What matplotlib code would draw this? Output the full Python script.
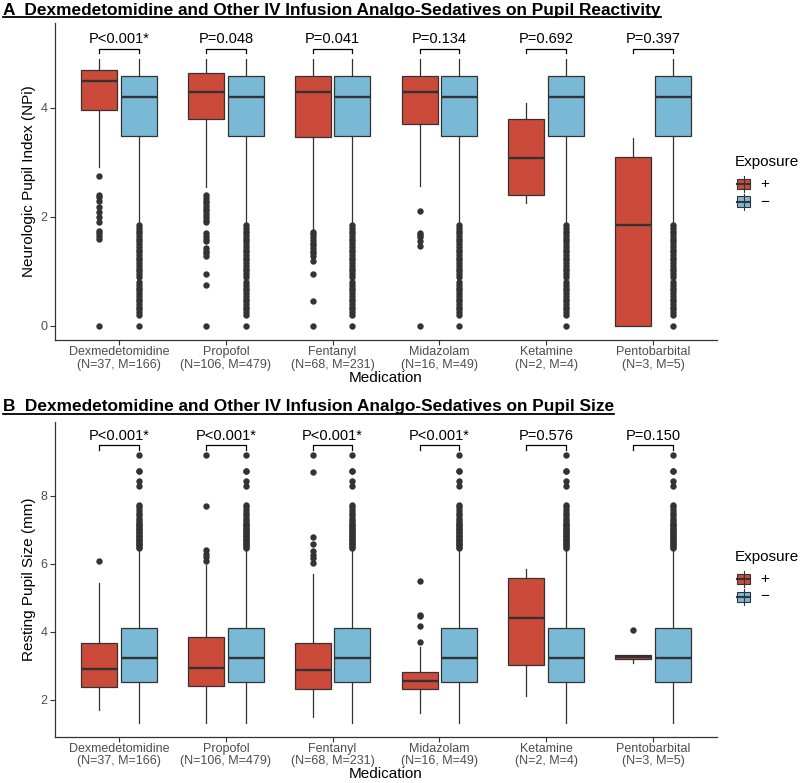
import numpy as np
import matplotlib
matplotlib.use('Agg')
import matplotlib.pyplot as plt
from matplotlib.patches import Rectangle
from matplotlib.lines import Line2D

plt.rcParams['font.family'] = ['Liberation Sans', 'DejaVu Sans']

medications = ['Dexmedetomidine', 'Propofol', 'Fentanyl', 'Midazolam', 'Ketamine', 'Pentobarbital']
counts = ['(N=37, M=166)', '(N=106, M=479)', '(N=68, M=231)', '(N=16, M=49)', '(N=2, M=4)', '(N=3, M=5)']

# panel A: NPi, exposed (+) groups -> whislo, q1, med, q3, whishi
npi_exposed = [
    [2.92, 3.96, 4.50, 4.69, 4.89],
    [2.55, 3.80, 4.30, 4.65, 4.89],
    [1.76, 3.46, 4.30, 4.59, 4.89],
    [2.57, 3.70, 4.30, 4.59, 4.89],
    [2.25, 2.40, 3.08, 3.80, 4.09],
    [0.00, 0.00, 1.85, 3.10, 3.44],
]
npi_exposed_out = [
    [2.75, 2.40, 2.36, 2.30, 2.19, 2.09, 2.00, 1.90, 1.75, 1.70, 1.65, 1.60, 0.0],
    [2.40, 2.35, 2.30, 2.25, 2.20, 2.15, 2.10, 2.05, 2.00, 1.95, 1.91, 1.71, 1.65,
     1.60, 1.55, 1.43, 1.38, 1.33, 1.29, 0.95, 0.75, 0.0],
    [1.73, 1.68, 1.63, 1.58, 1.53, 1.48, 1.43, 1.38, 1.33, 1.28, 1.19, 0.95, 0.45, 0.0],
    [2.10, 1.71, 1.66, 1.63, 1.55, 1.46, 0.0],
    [],
    [],
]
# unexposed (-) reference group
npi_control = [1.87, 3.49, 4.20, 4.59, 4.89]
npi_control_out = [1.85, 1.80, 1.75, 1.70, 1.65, 1.60, 1.55, 1.50, 1.45, 1.40, 1.35, 1.30,
                   1.25, 1.20, 1.15, 1.10, 1.05, 1.00, 0.95, 0.90, 0.80, 0.75, 0.70, 0.65,
                   0.60, 0.55, 0.50, 0.45, 0.40, 0.35, 0.30, 0.25, 0.20, 0.0]
npi_pvals = ['P<0.001*', 'P=0.048', 'P=0.041', 'P=0.134', 'P=0.692', 'P=0.397']

# panel B: pupil size
size_exposed = [
    [1.70, 2.37, 2.90, 3.67, 5.44],
    [1.32, 2.39, 2.93, 3.84, 5.96],
    [1.48, 2.32, 2.86, 3.68, 5.69],
    [1.62, 2.32, 2.55, 2.82, 3.54],
    [2.12, 3.01, 4.39, 5.57, 5.84],
    [3.09, 3.20, 3.26, 3.32, 3.32],
]
size_exposed_out = [
    [6.07],
    [6.07, 6.20, 6.30, 6.40, 7.70, 9.20],
    [6.03, 6.16, 6.26, 6.37, 6.57, 6.78, 8.71, 9.20],
    [3.69, 4.17, 4.47, 4.50, 5.48],
    [],
    [4.04],
]
size_control = [1.31, 2.52, 3.23, 4.10, 6.45]
size_control_out = [9.20, 8.74, 8.72, 8.43, 8.29, 7.73, 7.68, 7.58, 7.50, 7.42, 7.35, 7.28,
                    7.22, 7.18, 7.14, 7.10, 7.06, 7.02, 6.98, 6.94, 6.90, 6.86, 6.82, 6.78,
                    6.74, 6.70, 6.66, 6.62, 6.58, 6.54, 6.50, 6.47]
size_pvals = ['P<0.001*', 'P<0.001*', 'P<0.001*', 'P<0.001*', 'P=0.576', 'P=0.150']

RED = '#CB4A3A'
BLUE = '#7AB9D6'
DARK = '#333333'
OFF = 0.186
BW = 0.337


def stats(v, out):
    return dict(whislo=v[0], q1=v[1], med=v[2], q3=v[3], whishi=v[4], fliers=out)


def draw_panel(ax, exposed, exposed_out, control, control_out, pvals,
               ylim, yticks, ylabel, brk, tick_drop, ptxt):
    x = np.arange(1, len(medications) + 1)
    common = dict(widths=BW, patch_artist=True, showcaps=False, manage_ticks=False,
                  medianprops=dict(color=DARK, lw=1.7),
                  whiskerprops=dict(color=DARK, lw=0.9),
                  flierprops=dict(marker='o', mfc=DARK, mec='none', ms=4.6))
    ax.bxp([stats(v, o) for v, o in zip(exposed, exposed_out)],
           positions=x - OFF, boxprops=dict(facecolor=RED, edgecolor=DARK, lw=0.9), **common)
    ax.bxp([stats(control, control_out) for _ in medications],
           positions=x + OFF, boxprops=dict(facecolor=BLUE, edgecolor=DARK, lw=0.9), **common)
    for i, p in enumerate(pvals):
        ax.plot([x[i] - OFF, x[i] - OFF, x[i] + OFF, x[i] + OFF],
                [brk - tick_drop, brk, brk, brk - tick_drop], color='black', lw=0.9)
        ax.text(x[i], ptxt, p, ha='center', va='baseline', fontsize=10.5)
    ax.set_xlim(0.4, 6.6)
    ax.set_ylim(*ylim)
    ax.set_yticks(yticks)
    ax.set_xticks(x)
    ax.set_xticklabels([m + '\n' + c for m, c in zip(medications, counts)],
                       fontsize=9, color='#4D4D4D', linespacing=1.05)
    ax.tick_params(axis='y', labelsize=9, labelcolor='#4D4D4D', pad=2)
    ax.tick_params(axis='x', pad=1)
    ax.tick_params(colors=DARK, length=3.5, width=0.8)
    for t in ax.get_yticklabels():
        t.set_color('#4D4D4D')
    for t in ax.get_xticklabels():
        t.set_color('#4D4D4D')
    for s in ['top', 'right']:
        ax.spines[s].set_visible(False)
    for s in ['left', 'bottom']:
        ax.spines[s].set_color(DARK)
        ax.spines[s].set_linewidth(0.9)
    ax.set_xlabel('Medication', fontsize=11, labelpad=0)
    ax.set_ylabel(ylabel, fontsize=11, labelpad=3)


fig = plt.figure(figsize=(8, 7.83), dpi=100)
H = 783.0
axA = fig.add_axes([55 / 800, (H - 340) / H, 662 / 800, 317 / H])
axB = fig.add_axes([55 / 800, (H - 736.7) / H, 662 / 800, 315 / H])

draw_panel(axA, npi_exposed, npi_exposed_out, npi_control, npi_control_out, npi_pvals,
           (-0.26, 5.56), [0, 2, 4], 'Neurologic Pupil Index (NPi)', 5.09, 0.08, 5.19)
draw_panel(axB, size_exposed, size_exposed_out, size_control, size_control_out, size_pvals,
           (0.91, 10.18), [2, 4, 6, 8], 'Resting Pupil Size (mm)', 9.49, 0.15, 9.64)

titles = [('A  Dexmedetomidine and Other IV Infusion Analgo-Sedatives on Pupil Reactivity', 14.5),
          ('B  Dexmedetomidine and Other IV Infusion Analgo-Sedatives on Pupil Size', 411.5)]
ttexts = []
for t, ypx in titles:
    ttexts.append(fig.text(3 / 800, 1 - ypx / H, t, fontsize=12.4, fontweight='bold',
                           ha='left', va='baseline'))

# legends
for ytitle in [162, 557]:
    fig.text(735 / 800, 1 - ytitle / H, 'Exposure', fontsize=11, ha='left', va='center')
    for k, (col, lab) in enumerate([(RED, '+'), (BLUE, '\u2212')]):
        yc = ytitle + 22 + k * 17.5
        x0, w, h = 737, 13, 10
        fig.add_artist(Line2D([(x0 + w / 2) / 800] * 2, [1 - (yc - 8) / H, 1 - (yc + 8) / H],
                              color=DARK, lw=0.8))
        fig.add_artist(Rectangle((x0 / 800, 1 - (yc + h / 2) / H), w / 800, h / H,
                                 facecolor=col, edgecolor=DARK, lw=0.8))
        fig.add_artist(Line2D([x0 / 800, (x0 + w) / 800], [1 - yc / H] * 2, color=DARK, lw=1.5))
        fig.text(760 / 800, 1 - yc / H, lab, fontsize=11, ha='left', va='center')

fig.canvas.draw()
r = fig.canvas.get_renderer()
for t in ttexts:
    bb = t.get_window_extent(r).transformed(fig.transFigure.inverted())
    y0 = t.get_position()[1] - 2.5 / H
    fig.add_artist(Line2D([bb.x0, bb.x1], [y0, y0], color='black', lw=1.3))

fig.savefig('out.png', dpi=100)
